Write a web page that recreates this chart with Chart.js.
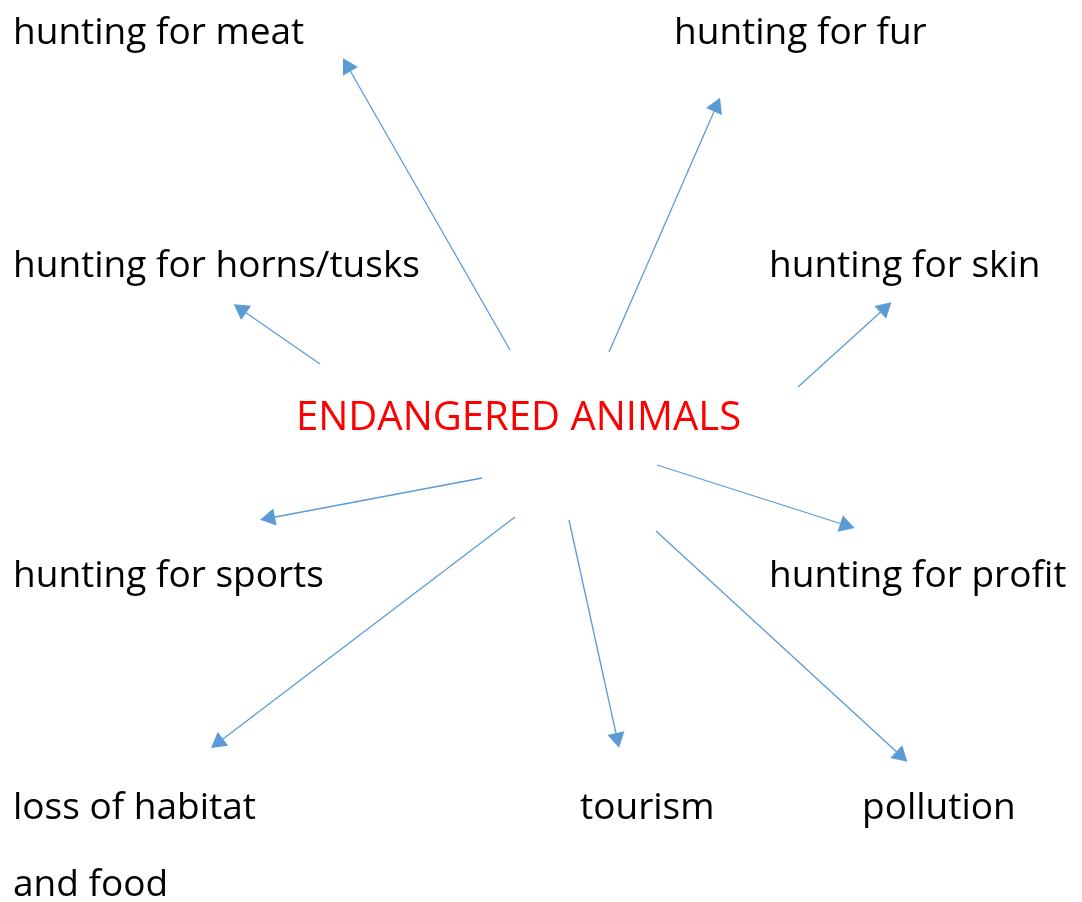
<!DOCTYPE html>
<html>
<head>
<meta charset="utf-8">
<script src="https://cdn.jsdelivr.net/npm/chart.js@4/dist/chart.umd.min.js"></script>
<style>
  html, body { margin: 0; padding: 0; background: #fff; }
  #wrap { width: 1082px; height: 902px; }
</style>
</head>
<body>
<div id="wrap"><canvas id="mapa"></canvas></div>
<script>
// arrows: start (near centre) and arrowhead position, in page pixels
const arrowFromX = [510, 609, 320, 798, 482, 657, 515, 569, 656];
const arrowFromY = [350, 352, 364, 387, 478, 465, 517, 520, 531];
const arrowToX   = [348, 716, 242, 884, 270, 845, 219, 617, 900];
const arrowToY   = [67, 107, 310, 309, 518, 525, 742, 738, 755];

// labels
const labelTexts = ['hunting for meat', 'hunting for fur', 'hunting for horns/tusks', 'hunting for skin',
  'hunting for sports', 'hunting for profit', 'loss of habitat', 'and food', 'tourism', 'pollution'];
const labelX = [13, 674, 13, 769, 13, 769, 13, 13, 580, 862];
const labelY = [33, 33, 266, 266, 576, 576, 808, 885, 808, 808];

const titleText = 'ENDANGERED ANIMALS';
const titleX = 296;
const titleY = 419;

const blue = '#5b9bd5';
const fontFam = '"Comic Sans MS", "Open Sans", sans-serif';

const datasets = arrowFromX.map((x0, i) => {
  const dx = arrowToX[i] - x0;
  const dy = arrowToY[i] - arrowFromY[i];
  const ang = Math.atan2(dx, -dy) * 180 / Math.PI;
  return {
    data: [{ x: x0, y: arrowFromY[i] }, { x: arrowToX[i], y: arrowToY[i] }],
    showLine: true,
    borderColor: blue,
    borderWidth: 1.3,
    backgroundColor: blue,
    pointStyle: 'triangle',
    pointRadius: [0, 10],
    pointHoverRadius: [0, 10],
    pointRotation: [0, ang],
    pointBorderWidth: 0
  };
});

const textos = {
  id: 'textos',
  afterDatasetsDraw(chart) {
    const { ctx, scales } = chart;
    ctx.save();
    ctx.textBaseline = 'middle';
    ctx.textAlign = 'left';
    ctx.fillStyle = '#000';
    ctx.font = '37px ' + fontFam;
    labelTexts.forEach((t, i) => {
      ctx.fillText(t, scales.x.getPixelForValue(labelX[i]), scales.y.getPixelForValue(labelY[i]));
    });
    ctx.fillStyle = '#ff0000';
    ctx.font = '40px ' + fontFam;
    ctx.fillText(titleText, scales.x.getPixelForValue(titleX), scales.y.getPixelForValue(titleY));
    ctx.restore();
  }
};

new Chart(document.getElementById('mapa'), {
  type: 'scatter',
  data: { datasets },
  options: {
    responsive: true,
    maintainAspectRatio: false,
    animation: false,
    layout: { padding: 0, autoPadding: false },
    plugins: { legend: { display: false }, tooltip: { enabled: false } },
    scales: {
      x: { type: 'linear', min: 0, max: 1082, display: false },
      y: { type: 'linear', min: 0, max: 902, reverse: true, display: false }
    }
  },
  plugins: [textos]
});
</script>
</body>
</html>
